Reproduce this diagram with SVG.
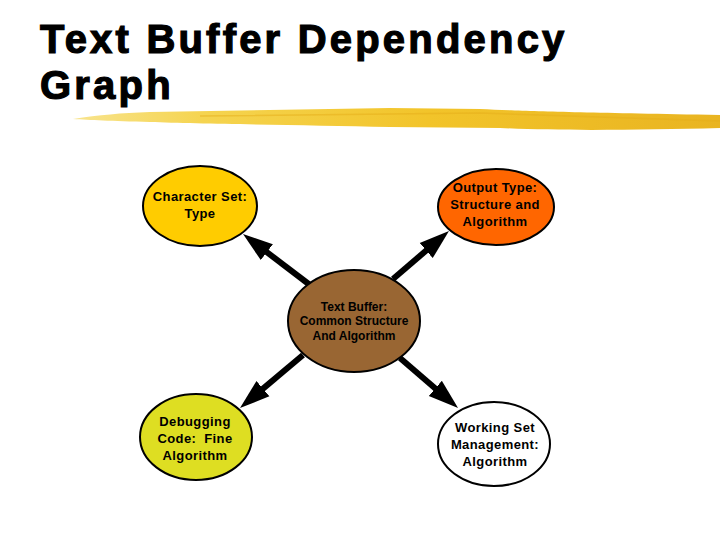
<svg xmlns="http://www.w3.org/2000/svg" width="720" height="540" viewBox="0 0 720 540">
<style>
.title{font-family:"Liberation Sans",Arial,sans-serif;font-weight:bold;font-size:40px;letter-spacing:3.2px;fill:#000;stroke:#000;stroke-width:1.2px}
.node ellipse{stroke:#000;stroke-width:2}
.lbl{font-family:"Liberation Sans",Arial,sans-serif;font-weight:bold;font-size:13px;letter-spacing:0.4px;fill:#000;text-anchor:middle;white-space:pre}
.lbl.small{font-size:12px;letter-spacing:0}
.conn line{stroke:#000;stroke-width:6;marker-end:url(#ah)}
</style>
<defs>
<marker id="ah" markerUnits="userSpaceOnUse" markerWidth="34" markerHeight="24" viewBox="0 -12 34 24" refX="10" refY="0" orient="auto">
<path d="M0,-10 L30,0 L0,10 Z" fill="#000"/>
</marker>
<linearGradient id="brush" x1="0" y1="0" x2="1" y2="0">
<stop offset="0" stop-color="#f8e48e"/>
<stop offset="0.2" stop-color="#f5d450"/>
<stop offset="0.55" stop-color="#f2c42a"/>
<stop offset="1" stop-color="#e9b421"/>
</linearGradient>
</defs>
<rect width="720" height="540" fill="#fff"/>
<g id="title">
<text class="title" x="40" y="53">Text Buffer Dependency</text>
<text class="title" x="40" y="99">Graph</text>
<path d="M73,119 C100,115 120,113 150,112 L390,108 L480,109 C520,111 560,112 720,115 L720,128 C640,130 560,131 500,128 L390,127 C300,125 200,124 150,122 C110,121 90,120 73,119 Z" fill="url(#brush)"/>
<path d="M200,116 L480,113 L720,121" stroke="#e6ad1a" stroke-width="1.5" fill="none" opacity="0.5"/>
</g>
<g class="conn" id="connectors">
<line x1="310" y1="285" x2="258.9" y2="246.1"/>
<line x1="393" y1="279" x2="433.8" y2="244"/>
<line x1="303" y1="355" x2="255.3" y2="395.1"/>
<line x1="400" y1="358" x2="442.9" y2="394.9"/>
</g>
<g class="node" id="charset">
<ellipse cx="200" cy="206" rx="57" ry="40" fill="#ffcc00"/>
<text class="lbl" x="200" y="201">Character Set:</text>
<text class="lbl" x="200" y="218">Type</text>
</g>
<g class="node" id="output">
<ellipse cx="496" cy="207" rx="58" ry="38" fill="#ff6600"/>
<text class="lbl" x="495" y="192">Output Type:</text>
<text class="lbl" x="495" y="209">Structure and</text>
<text class="lbl" x="495" y="226">Algorithm</text>
</g>
<g class="node" id="textbuffer">
<ellipse cx="354" cy="321" rx="66" ry="51" fill="#996633"/>
<text class="lbl small" x="354" y="311">Text Buffer:</text>
<text class="lbl small" x="354" y="325">Common Structure</text>
<text class="lbl small" x="354" y="340">And Algorithm</text>
</g>
<g class="node" id="debugging">
<ellipse cx="196" cy="437" rx="56" ry="43" fill="#dede22"/>
<text class="lbl" x="195" y="426">Debugging</text>
<text class="lbl" x="195" y="443">Code:  Fine</text>
<text class="lbl" x="195" y="460">Algorithm</text>
</g>
<g class="node" id="workingset">
<ellipse cx="494" cy="444" rx="56" ry="42" fill="#ffffff"/>
<text class="lbl" x="495" y="432">Working Set</text>
<text class="lbl" x="495" y="449">Management:</text>
<text class="lbl" x="495" y="466">Algorithm</text>
</g>
</svg>
